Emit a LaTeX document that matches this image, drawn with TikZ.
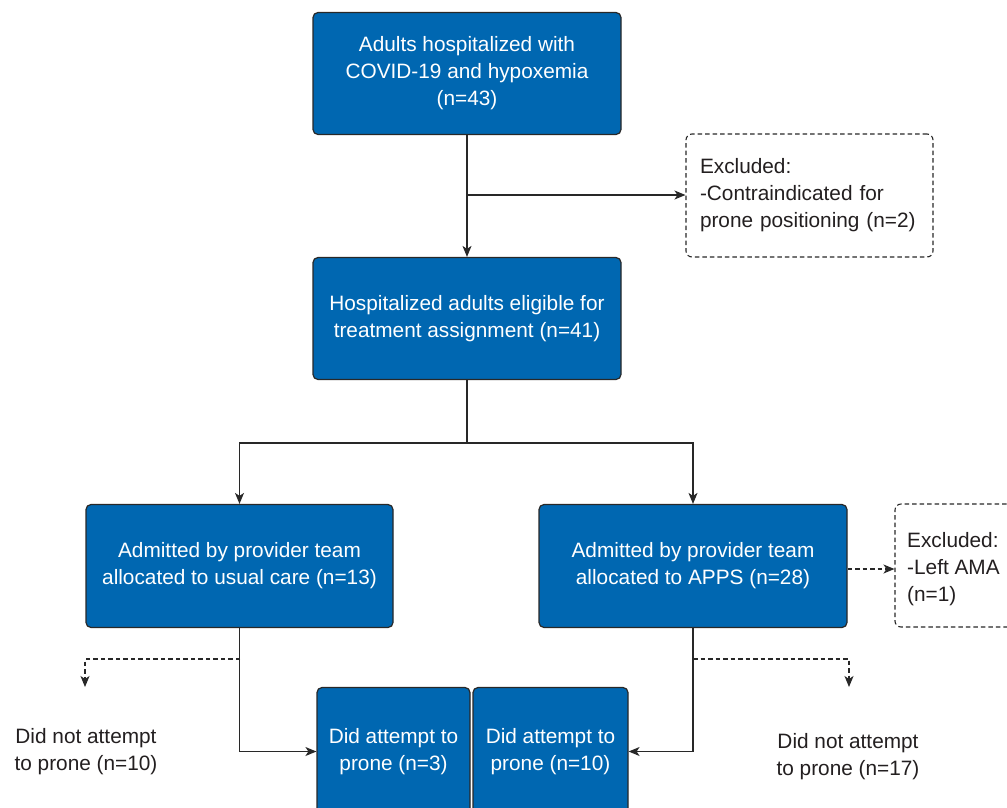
\documentclass[tikz,border=0pt]{standalone}
\usepackage{fontspec}
\setmainfont{Liberation Sans}
\usetikzlibrary{arrows.meta,calc}
\definecolor{boxblue}{RGB}{0,103,177}
\definecolor{edgegray}{RGB}{40,40,40}
\definecolor{txtgray}{RGB}{35,31,32}
\begin{document}
\begin{tikzpicture}[x=1pt,y=-1pt,
  every node/.style={font=\fontsize{20.8}{27}\selectfont},
  bluebox/.style={draw=edgegray,line width=1.2pt,fill=boxblue,rounded corners=5pt,text=white,align=center,inner sep=0pt},
  exbox/.style={draw=edgegray,line width=1.1pt,dash pattern=on 4.5pt off 3pt,rounded corners=6pt,text=txtgray,align=left,inner sep=0pt},
  plain/.style={text=txtgray,align=center,inner sep=0pt},
  conn/.style={draw=edgegray,line width=1.2pt},
  arr/.style={conn,-{Stealth[length=11pt,width=9pt,inset=3pt]}},
  darr/.style={arr,dash pattern=on 4.5pt off 3pt}]
\useasboundingbox (0,0) rectangle (1007,807);
\clip (0,0) rectangle (1007,807);
\fill[white] (0,0) rectangle (1007,807);
% boxes
\node[bluebox,minimum width=308pt,minimum height=122pt] (top) at (467,73.5) {Adults hospitalized with\\COVID-19 and hypoxemia\\(n=43)};
\node[exbox,minimum width=247pt,minimum height=123pt,text width=219pt] (ex1) at (809.5,195.5) {Excluded:\\-Contraindicated for\\prone positioning (n=2)};
\node[bluebox,minimum width=308pt,minimum height=122pt] (elig) at (467,318.5) {Hospitalized adults eligible for\\treatment assignment (n=41)};
\node[bluebox,minimum width=307pt,minimum height=123pt] (usual) at (239.5,566) {Admitted by provider team\\allocated to usual care (n=13)};
\node[bluebox,minimum width=308pt,minimum height=123pt] (apps) at (693,566) {Admitted by provider team\\allocated to APPS (n=28)};
\node[exbox,minimum width=140pt,minimum height=123pt] (ex2) at (965,565.5) {};
\node[plain,align=left,anchor=west] (ex2t) at (907,569) {Excluded:\\-Left AMA\\(n=1)};
\node[bluebox,minimum width=153pt,minimum height=128pt] (att1) at (393.5,751.5) {Did attempt to\\prone (n=3)};
\node[bluebox,minimum width=155pt,minimum height=128pt] (att2) at (550.5,751.5) {Did attempt to\\prone (n=10)};
\node[plain] (no1) at (86,751.5) {Did not attempt\\to prone (n=10)};
\node[plain] (no2) at (848,756.5) {Did not attempt\\to prone (n=17)};
% helper coordinates
\coordinate (b1) at (467,195);
\coordinate (j) at (467,443);
\coordinate (d1) at (240,659);
\coordinate (e1) at (85,687);
\coordinate (d2) at (693,659);
\coordinate (e2) at (849,687);
% connectors
\draw[arr] (top.south) -- (elig.north);
\draw[arr] (b1) -- (ex1.west |- b1);
\draw[conn] (elig.south) -- (j);
\draw[arr] (j) -| (usual.north);
\draw[arr] (j) -| (apps.north);
\draw[darr] (apps.east |- ex2t.west) -- (ex2.west |- ex2t.west);
\draw[arr] (usual.south) |- (att1.west);
\draw[arr] (apps.south) |- (att2.east);
\draw[darr] (d1) -| (e1);
\draw[darr] (d2) -| (e2);
\end{tikzpicture}
\end{document}
